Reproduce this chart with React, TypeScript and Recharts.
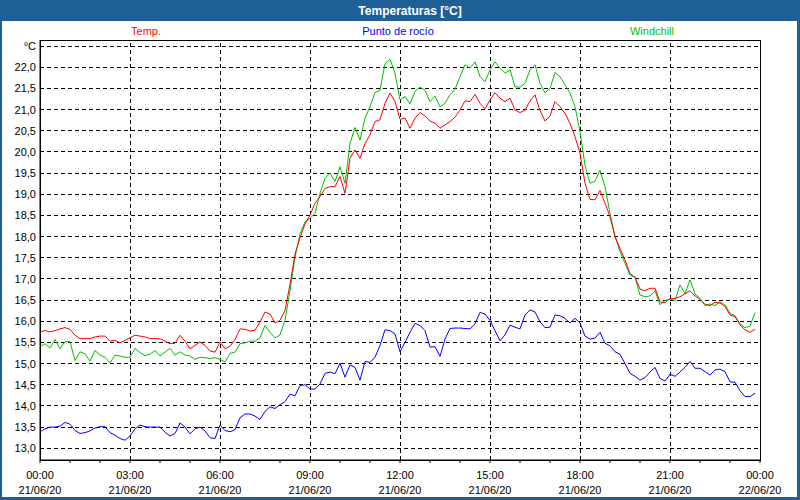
import { LineChart, Line, XAxis, YAxis, CartesianGrid, ReferenceLine, ReferenceArea } from 'recharts';

// 10-minute readings, 00:00 .. 23:50 on 21/06/20
const STEP_MIN = 10;

const TEMP = [
  15.75, 15.78, 15.75, 15.78, 15.82, 15.85,
  15.81, 15.67, 15.59, 15.59, 15.59, 15.63,
  15.65, 15.65, 15.53, 15.55, 15.49, 15.55,
  15.61, 15.67, 15.65, 15.63, 15.59, 15.59,
  15.59, 15.53, 15.47, 15.48, 15.67, 15.53,
  15.35, 15.43, 15.51, 15.43, 15.30, 15.27,
  15.51, 15.35, 15.41, 15.57, 15.82, 15.81,
  15.77, 15.79, 15.98, 16.22, 16.17, 15.96,
  16.02, 16.25, 16.88, 17.59, 17.97, 18.30,
  18.51, 18.79, 18.94, 19.14, 19.18, 19.18,
  19.42, 19.02, 19.85, 20.05, 19.85, 20.20,
  20.40, 20.72, 20.76, 21.15, 21.39, 21.19,
  20.77, 20.80, 20.56, 20.80, 20.93, 20.85,
  20.73, 20.68, 20.56, 20.64, 20.72, 20.82,
  20.99, 21.21, 21.19, 21.36, 21.15, 21.02,
  21.23, 21.40, 21.27, 21.19, 21.27, 20.99,
  20.93, 20.99, 21.20, 21.35, 20.98, 20.73,
  20.85, 21.19, 21.07, 20.91, 20.68, 20.36,
  19.97, 19.26, 18.88, 18.87, 19.09, 18.79,
  18.47, 18.00, 17.72, 17.45, 17.13, 17.04,
  16.76, 16.72, 16.78, 16.78, 16.46, 16.44,
  16.54, 16.54, 16.58, 16.65, 16.72, 16.60,
  16.52, 16.40, 16.37, 16.45, 16.43, 16.35,
  16.15, 16.11, 15.91, 15.80, 15.74, 15.81,
];

const DEW_POINT = [
  13.39, 13.46, 13.50, 13.50, 13.52, 13.61,
  13.57, 13.42, 13.35, 13.37, 13.41, 13.48,
  13.51, 13.51, 13.37, 13.31, 13.23, 13.19,
  13.29, 13.46, 13.55, 13.51, 13.50, 13.50,
  13.50, 13.38, 13.29, 13.35, 13.60, 13.50,
  13.34, 13.46, 13.50, 13.41, 13.25, 13.23,
  13.55, 13.42, 13.39, 13.44, 13.72, 13.81,
  13.81, 13.76, 13.68, 13.87, 13.98, 13.94,
  14.03, 14.10, 14.28, 14.24, 14.48, 14.50,
  14.40, 14.40, 14.52, 14.77, 14.80, 14.76,
  15.01, 14.68, 14.97, 14.91, 14.61, 15.05,
  15.03, 15.15, 15.43, 15.80, 15.78, 15.70,
  15.28, 15.50, 15.74, 15.95, 15.90, 15.78,
  15.39, 15.40, 15.17, 15.58, 15.83, 15.84,
  15.84, 15.83, 15.82, 15.94, 16.21, 16.17,
  16.02, 15.78, 15.54, 15.68, 15.91, 15.86,
  15.82, 16.15, 16.27, 16.22, 15.99, 15.85,
  15.86, 16.15, 16.13, 16.07, 15.96, 16.07,
  15.96, 15.65, 15.58, 15.60, 15.74, 15.48,
  15.42, 15.28, 15.22, 15.00, 14.77, 14.70,
  14.61, 14.67, 14.80, 14.91, 14.65, 14.59,
  14.75, 14.70, 14.80, 14.91, 15.05, 14.89,
  14.89, 14.81, 14.73, 14.85, 14.87, 14.81,
  14.57, 14.56, 14.36, 14.22, 14.22, 14.30,
];

const WINDCHILL = [
  15.40, 15.47, 15.37, 15.57, 15.35, 15.52,
  15.52, 15.07, 15.28, 15.23, 15.06, 15.31,
  15.20, 15.15, 15.02, 15.20, 15.18, 15.15,
  15.15, 15.36, 15.26, 15.19, 15.22, 15.31,
  15.18, 15.27, 15.36, 15.20, 15.28, 15.20,
  15.18, 15.10, 15.15, 15.14, 15.12, 15.14,
  15.10, 15.04, 15.24, 15.27, 15.47, 15.49,
  15.53, 15.53, 15.61, 15.90, 15.74, 15.61,
  15.68, 16.02, 16.72, 17.51, 18.07, 18.35,
  18.43, 18.55, 19.02, 19.38, 19.50, 19.30,
  19.65, 19.26, 20.20, 20.58, 20.28, 20.80,
  21.07, 21.40, 21.46, 22.08, 22.19, 21.86,
  21.23, 21.31, 21.13, 21.43, 21.53, 21.46,
  21.19, 21.32, 21.07, 21.15, 21.35, 21.48,
  21.78, 22.06, 21.98, 22.13, 21.78, 21.66,
  21.94, 22.13, 21.98, 21.86, 21.94, 21.54,
  21.53, 21.62, 21.94, 22.06, 21.62, 21.40,
  21.50, 21.88, 21.78, 21.58, 21.39, 21.07,
  20.48, 19.69, 19.26, 19.31, 19.57, 19.18,
  18.55, 18.00, 17.65, 17.37, 17.09, 17.04,
  16.62, 16.58, 16.60, 16.72, 16.39, 16.49,
  16.52, 16.49, 16.86, 16.65, 16.98, 16.65,
  16.54, 16.37, 16.41, 16.37, 16.46, 16.39,
  16.19, 16.13, 15.94, 15.85, 15.89, 16.20,
];

const HOUR_TICKS = [0, 60, 120, 180, 240, 300, 360, 420, 480, 540, 600, 660, 720, 780, 840, 900, 960, 1020, 1080, 1140, 1200, 1260, 1320, 1380, 1440];
const MAJOR_TICKS = [0, 180, 360, 540, 720, 900, 1080, 1260, 1440];
const TIME_LABELS = ['00:00', '03:00', '06:00', '09:00', '12:00', '15:00', '18:00', '21:00', '00:00'];
const DATE_LABELS = ['21/06/20', '21/06/20', '21/06/20', '21/06/20', '21/06/20', '21/06/20', '21/06/20', '21/06/20', '22/06/20'];
const Y_TICKS = [13, 13.5, 14, 14.5, 15, 15.5, 16, 16.5, 17, 17.5, 18, 18.5, 19, 19.5, 20, 20.5, 21, 21.5, 22, 22.5];
const Y_MIN = 12.723;
const Y_MAX = 22.645;

const FRAME_BLUE = '#1f5f97';
const FONT = '"Liberation Sans", Arial, sans-serif';

const data = TEMP.map((t, i) => ({
  min: i * STEP_MIN,
  temp: t,
  dew: DEW_POINT[i],
  wc: WINDCHILL[i],
}));

function formatY(v: number): string {
  if (v === 22.5) return '°C';
  return v.toFixed(1).replace('.', ',');
}

function TimeTick(props: any) {
  const { x, y, payload } = props;
  const idx = MAJOR_TICKS.indexOf(payload.value);
  if (idx < 0) return <g />;
  return (
    <g>
      <text x={x} y={y} dy={14} textAnchor="middle" fontSize={11} fill="#000" fontFamily={FONT}>
        {TIME_LABELS[idx]}
      </text>
      <text x={x} y={y} dy={29} textAnchor="middle" fontSize={11} fill="#000" fontFamily={FONT}>
        {DATE_LABELS[idx]}
      </text>
    </g>
  );
}

export default function App() {
  return (
    <div style={{ position: 'absolute', left: 0, top: 0, width: 800, height: 500, background: '#fff', fontFamily: FONT, overflow: 'hidden' }}>
      <LineChart width={800} height={500} data={data} margin={{ top: 40, right: 40, bottom: 0, left: 0 }}>
        <CartesianGrid vertical={false} stroke="#000" strokeDasharray="4 3" shapeRendering="crispEdges" />
        {MAJOR_TICKS.slice(1, -1).map((m) => (
          <ReferenceLine key={m} x={m} stroke="#000" strokeDasharray="4 3" shapeRendering="crispEdges" />
        ))}
        <ReferenceArea x1={0} x2={1440} y1={Y_MIN} y2={Y_MAX} fill="none" stroke="#000" strokeWidth={1} shapeRendering="crispEdges" />
        <XAxis
          type="number"
          dataKey="min"
          domain={[0, 1440]}
          ticks={HOUR_TICKS}
          interval={0}
          allowDataOverflow
          height={40}
          axisLine={{ stroke: '#000' }}
          tickLine={{ stroke: '#000' }}
          tickSize={3}
          tickMargin={2}
          tick={<TimeTick />}
        />
        <YAxis
          type="number"
          domain={[Y_MIN, Y_MAX]}
          ticks={Y_TICKS}
          interval={0}
          allowDataOverflow
          width={40}
          axisLine={{ stroke: '#000' }}
          tickLine={false}
          tickSize={0}
          tickMargin={4}
          tickFormatter={formatY}
          tick={{ fontSize: 11, fill: '#000', fontFamily: FONT }}
        />
        <Line type="linear" dataKey="dew" stroke="#0000ff" strokeWidth={1} dot={false} isAnimationActive={false} />
        <Line type="linear" dataKey="wc" stroke="#00c000" strokeWidth={1} dot={false} isAnimationActive={false} />
        <Line type="linear" dataKey="temp" stroke="#ff0000" strokeWidth={1} dot={false} isAnimationActive={false} />
      </LineChart>

      <div style={{ position: 'absolute', left: 0, top: 0, width: 800, height: 21, background: FRAME_BLUE }} />
      <div style={{ position: 'absolute', left: 0, top: 0, width: 2, height: 500, background: FRAME_BLUE }} />
      <div style={{ position: 'absolute', left: 797, top: 0, width: 3, height: 500, background: FRAME_BLUE }} />
      <div style={{ position: 'absolute', left: 0, top: 497, width: 800, height: 3, background: FRAME_BLUE }} />

      <svg width={800} height={500} style={{ position: 'absolute', left: 0, top: 0, pointerEvents: 'none' }}>
        <text x={410} y={15} textAnchor="middle" fontSize={12} fontWeight="bold" fill="#fff" fontFamily={FONT}>
          Temperaturas [°C]
        </text>
        <text x={146} y={35} textAnchor="middle" fontSize={11} fill="#ff0000" fontFamily={FONT}>Temp.</text>
        <text x={398} y={35} textAnchor="middle" fontSize={11} fill="#0000ff" fontFamily={FONT}>Punto de rocío</text>
        <text x={652} y={35} textAnchor="middle" fontSize={11} fill="#00c000" fontFamily={FONT}>Windchill</text>
      </svg>
    </div>
  );
}
